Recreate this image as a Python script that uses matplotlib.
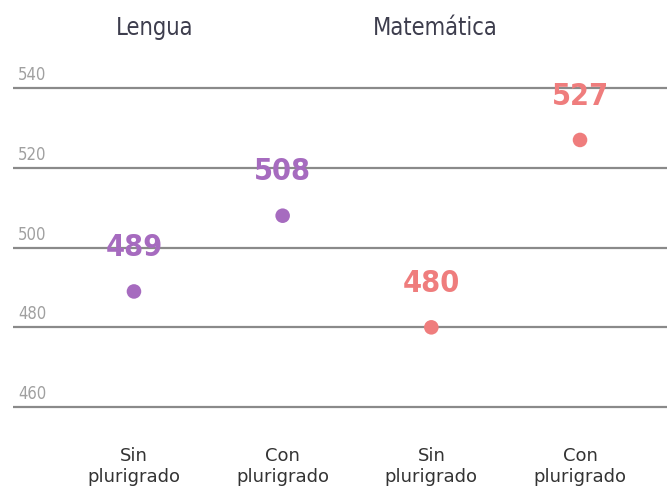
import matplotlib
matplotlib.use('Agg')
import matplotlib.pyplot as plt
from matplotlib import font_manager

# data
categories = ['Sin\nplurigrado', 'Con\nplurigrado', 'Sin\nplurigrado', 'Con\nplurigrado']
subjects = ['Lengua', 'Matemática']
scores = [489, 508, 480, 527]
y_ticks = [460, 480, 500, 520, 540]

PURPLE = '#a66bbf'
SALMON = '#ef7d7d'
point_colors = [PURPLE, PURPLE, SALMON, SALMON]


def is_narrow(f):
    s = f.stretch
    if isinstance(s, str):
        narrow_word = 'condensed' in s
    else:
        narrow_word = s < 500
    return narrow_word or 'Condensed' in f.name or 'Narrow' in f.name or 'Condensed' in f.fname


def pick_font(bold):
    cands = [f for f in font_manager.fontManager.ttflist if is_narrow(f) and f.style == 'normal']
    for f in cands:
        w = f.weight if isinstance(f.weight, int) else (700 if 'bold' in str(f.weight) else 400)
        if (w >= 600) == bold:
            return font_manager.FontProperties(fname=f.fname)
    return font_manager.FontProperties(family='Roboto', weight='bold' if bold else 'normal')


reg = pick_font(False)
bld = pick_font(True)

fig = plt.figure(figsize=(6.67, 4.92), dpi=100)
ax = fig.add_axes([0, 0, 1, 1])
ax.set_xlim(-0.901, 3.585)
ax.set_ylim(438.7, 562.1)
ax.axis('off')

xs = range(len(scores))

ax.hlines(y_ticks, -0.814, 3.6, color='#8a8a8a', lw=1.6, zorder=1)
for t in y_ticks:
    ax.text(-0.78, t + 1.0, str(t), fontproperties=reg, fontsize=12, color='#a0a0a0',
            va='bottom', ha='left')

ax.scatter(xs, scores, s=110, c=point_colors, zorder=3, edgecolors='none')
for x, v, c in zip(xs, scores, point_colors):
    ax.text(x, v + 11.0, str(v), fontproperties=bld, fontsize=22, color=c,
            ha='center', va='center')

for x, lab in zip(xs, categories):
    ax.text(x, 0.052, lab, transform=ax.get_xaxis_transform(), fontsize=13,
            color='#333333', ha='center', va='center', linespacing=1.2)

fig.text(155 / 667, 1 - 28 / 492, subjects[0], fontproperties=reg, fontsize=17,
         color='#3d3d4d', ha='center', va='center')
fig.text(435 / 667, 1 - 28 / 492, subjects[1], fontproperties=reg, fontsize=17,
         color='#3d3d4d', ha='center', va='center')

fig.savefig('out.png', dpi=100)
